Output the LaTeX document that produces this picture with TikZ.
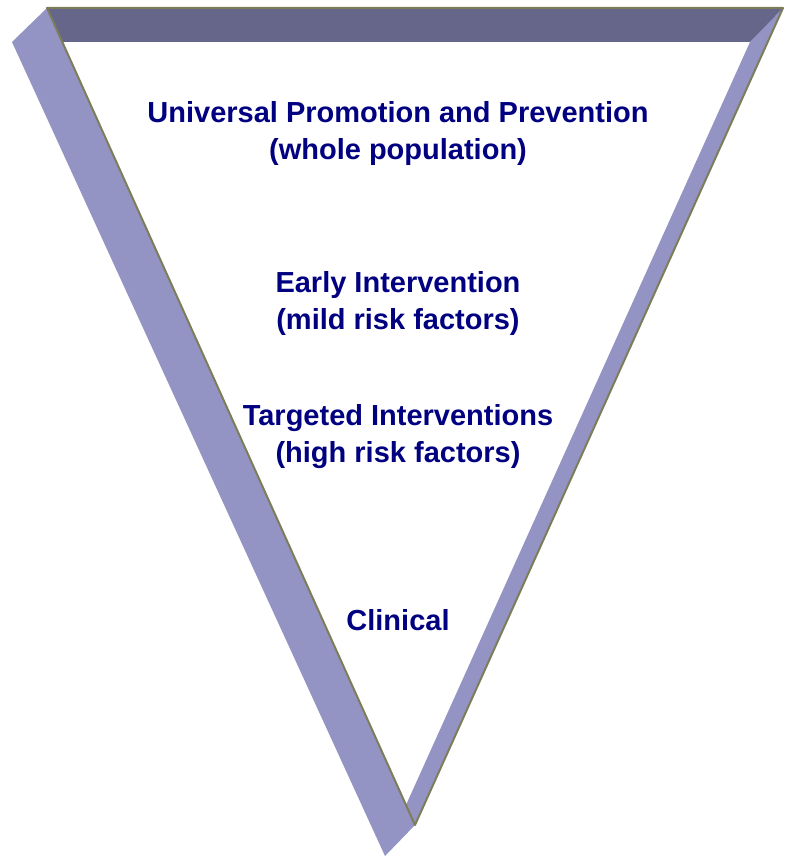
\documentclass[tikz,border=0pt]{standalone}
\usepackage{fontspec}
\setmainfont{Liberation Sans}
\definecolor{topface}{RGB}{102,102,138}
\definecolor{sideface}{RGB}{147,147,196}
\definecolor{edgeline}{RGB}{125,125,90}
\definecolor{navytext}{RGB}{0,0,128}
\begin{document}
\begin{tikzpicture}[x=1pt,y=-1pt,
  lbl/.style={font=\fontsize{29}{37}\selectfont\bfseries, text=navytext, align=center, inner sep=0pt}]
\useasboundingbox (0,0) rectangle (791,856);
% corners
\coordinate (TL) at (47,8);
\coordinate (TR) at (783,8);
\coordinate (B) at (415,825);
\coordinate (OL) at (12,42);
\coordinate (OB) at (385,856);
\coordinate (IL) at (62,42);
\coordinate (IR) at (750,42);
\coordinate (IB) at (406,805);
% faces
\fill[sideface] (TL) -- (OL) -- (OB) -- (B) -- (IL) -- cycle;
\fill[sideface] (IR) -- (TR) -- (B) -- (IB) -- cycle;
\fill[topface] (TL) -- (TR) -- (IR) -- (IL) -- cycle;
\draw[edgeline, line width=2pt, line join=round] (TL) -- (TR) -- (B) -- cycle;
% texts
\node[lbl] (t1) at (398,134) {Universal Promotion and Prevention\\(whole population)};
\node[lbl] (t2) at (398,303) {Early Intervention\\(mild risk factors)};
\node[lbl] (t3) at (398,437) {Targeted Interventions\\(high risk factors)};
\node[lbl] (t4) at (398,620) {Clinical};
\end{tikzpicture}
\end{document}
